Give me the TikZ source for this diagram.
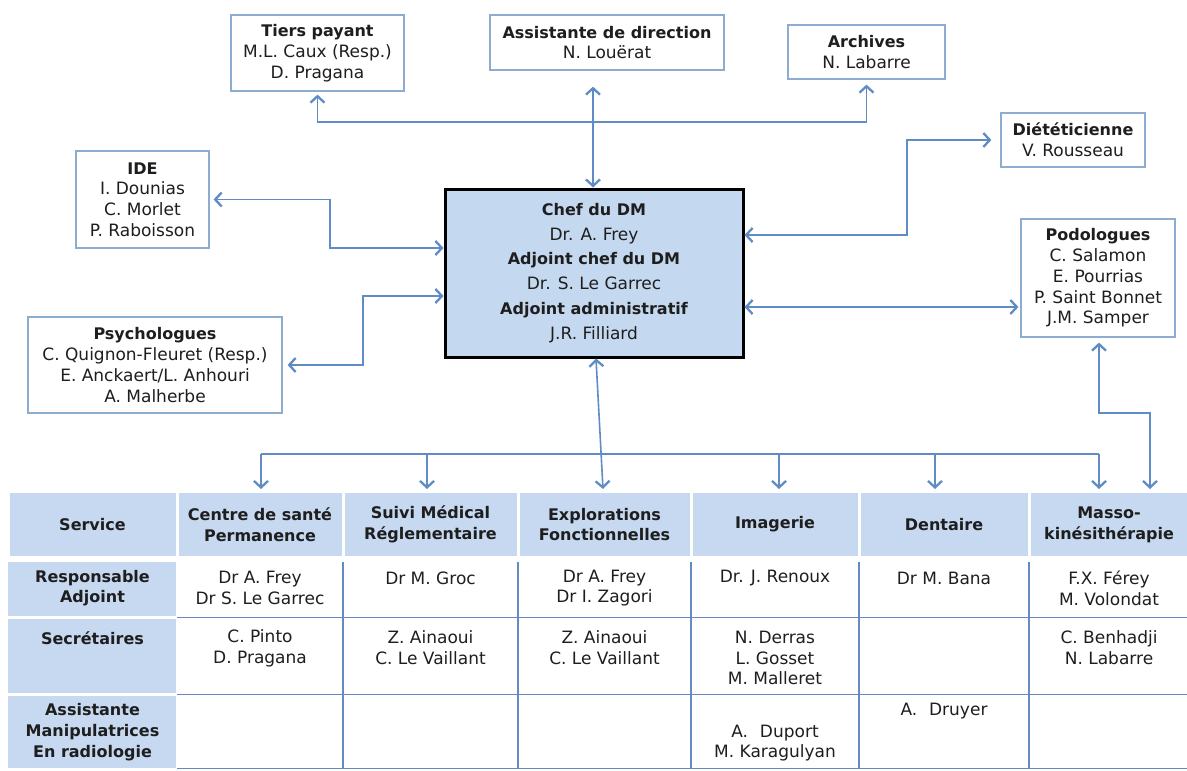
\documentclass[tikz,border=0pt]{standalone}
\usepackage{fontspec}
\setmainfont{DejaVu Sans}
\usetikzlibrary{arrows.meta,calc}
\definecolor{boxc}{RGB}{140,172,210}
\definecolor{arrc}{RGB}{95,140,196}
\definecolor{chefc}{RGB}{196,216,240}
\definecolor{hdrc}{RGB}{198,217,240}
\definecolor{linec}{RGB}{100,138,196}
\definecolor{txtc}{RGB}{30,30,30}
\newcommand\hb[1]{{\fontsize{16}{20.7}\selectfont\bfseries #1}}
\newcommand\hc[1]{{\fontsize{16}{24.8}\selectfont\bfseries #1}}
\begin{document}
\begin{tikzpicture}[x=1pt,y=-1pt,
  every node/.style={text=txtc, font=\fontsize{17}{20.7}\selectfont},
  box/.style={draw=boxc, line width=1.2pt, fill=white, align=center, inner sep=0pt},
  chefbox/.style={draw=black, line width=3pt, fill=chefc, align=center, inner sep=0pt,
    font=\fontsize{17}{24.8}\selectfont},
  conn/.style={draw=arrc, line width=1.6pt},
  >={Straight Barb[length=6.5pt,width=14pt,line width=2.3pt]},
  hdr/.style={fill=hdrc, draw=none, inner sep=0pt, align=center, minimum height=63pt},
  lblfill/.style={fill=hdrc},
  tline/.style={draw=linec, line width=1.3pt},
  cell/.style={align=center, inner sep=0pt}
]
\useasboundingbox (0,0) rectangle (1187,771);

% ---------- boxes ----------
\node[box, minimum width=173pt, minimum height=76pt] (tiers) at (317.5,53)
  {\hb{Tiers payant}\\M.L. Caux (Resp.)\\D. Pragana};
\node[box, minimum width=234pt, minimum height=55pt] (assist) at (607,42.5)
  {\hb{Assistante de direction}\\N. Louërat};
\node[box, minimum width=157pt, minimum height=54pt] (archives) at (866.5,52)
  {\hb{Archives}\\N. Labarre};
\node[box, minimum width=144pt, minimum height=54pt] (diet) at (1073,140)
  {\hb{Diététicienne}\\V. Rousseau};
\node[box, minimum width=133pt, minimum height=97pt] (ide) at (142.5,199.5)
  {\hb{IDE}\\I. Dounias\\C. Morlet\\P. Raboisson};
\node[box, minimum width=254pt, minimum height=96pt] (psych) at (155,365)
  {\hb{Psychologues}\\C. Quignon-Fleuret (Resp.)\\E. Anckaert/L. Anhouri\\A. Malherbe};
\node[box, minimum width=154pt, minimum height=118pt] (podo) at (1098,278)
  {\hb{Podologues}\\C. Salamon\\E. Pourrias\\P. Saint Bonnet\\J.M. Samper};
\node[chefbox, minimum width=298pt, minimum height=168pt] (chef) at (594,273)
  {\hc{Chef du DM}\\Dr. A. Frey\\\hc{Adjoint chef du DM}\\Dr. S. Le Garrec\\\hc{Adjoint administratif}\\J.R. Filliard};

% ---------- table ----------
\node[hdr, minimum width=166pt] (h0) at (92.5,524.5) {\hb{Service}};
\node[hdr, minimum width=163pt] (h1) at (260,524.5) {\hb{Centre de santé}\\\hb{Permanence}};
\node[hdr, minimum width=172pt] (h2) at (430.5,524.5) {\hb{Suivi Médical}\\\hb{Réglementaire}};
\node[hdr, minimum width=170pt] (h3) at (604.5,524.5) {\hb{Explorations}\\\hb{Fonctionnelles}};
\node[hdr, minimum width=165pt] (h4) at (775,524.5) {\hb{Imagerie}};
\node[hdr, minimum width=167pt] (h5) at (944,524.5) {\hb{Dentaire}};
\node[hdr, minimum width=157pt] (h6) at (1109,524.5) {\hb{Masso-}\\\hb{kinésithérapie}};
\fill[lblfill] (8,562) rectangle (176,616);
\fill[lblfill] (8,619) rectangle (176,693);
\fill[lblfill] (8,696) rectangle (176,768);
\draw[tline] (177,617.5) -- (1187,617.5);
\draw[tline] (177,694.5) -- (1187,694.5);
\draw[tline] (177,768.5) -- (1187,768.5);
\foreach \x in {343,518,691,859,1029} \draw[tline] (\x,562) -- (\x,769);
\node[cell] (l1) at (92.5,588) {\hb{Responsable}\\\hb{Adjoint}};
\node[cell] (l2) at (92.5,638) {\hb{Secrétaires}};
\node[cell] (l3) at (92.5,732) {\hb{Assistante}\\\hb{Manipulatrices}\\\hb{En radiologie}};
\node[cell] (r11) at (260,588) {Dr A. Frey\\Dr S. Le Garrec};
\node[cell] (r12) at (430.5,578) {Dr M. Groc};
\node[cell] (r13) at (604.5,588) {Dr A. Frey\\Dr I. Zagori};
\node[cell] (r14) at (775,578) {Dr. J. Renoux};
\node[cell] (r15) at (944,578) {Dr M. Bana};
\node[cell] (r16) at (1109,588) {F.X. Férey\\M. Volondat};
\node[cell] (r21) at (260,648) {C. Pinto\\D. Pragana};
\node[cell] (r22) at (430.5,648) {Z. Ainaoui\\C. Le Vaillant};
\node[cell] (r23) at (604.5,648) {Z. Ainaoui\\C. Le Vaillant};
\node[cell] (r24) at (775,658) {N. Derras\\L. Gosset\\M. Malleret};
\node[cell] (r26) at (1109,648) {C. Benhadji\\N. Labarre};
\node[cell] (r34) at (775,743) {A.\hspace{0.7em}Duport\\M. Karagulyan};
\node[cell] (r35) at (944,711) {A.\hspace{0.7em}Druyer};

% ---------- connectors ----------
\coordinate (hub) at (593,122);
\draw[conn,->,shorten >=3pt] (hub) -| (tiers.south);
\draw[conn,->,shorten >=5pt] (hub) -| (archives.south);
\draw[conn,<->,shorten <=16pt] (assist.south -| hub) -- (chef.north -| hub);

\coordinate (ideK) at (330,248);
\draw[conn,<->,shorten <=4pt] (ide.east) -| (ideK) -- (chef.west |- ideK);

\coordinate (psK) at (363,296);
\draw[conn,<->,shorten <=5pt] (psych.east) -| (psK) -- (chef.west |- psK);

\coordinate (diK) at (907,235);
\draw[conn,<->,shorten >=9pt] (chef.east |- diK) -- (diK) |- (diet.west);

\coordinate (poK) at (0,307);
\draw[conn,<->,shorten >=2pt] (chef.east |- poK) -- (podo.west |- poK);

\coordinate (pb1) at (1099,413);
\coordinate (pb2) at (1150,489);
\draw[conn,<->,shorten <=5pt] (podo.south -| pb1) -- (pb1) -| (pb2);

\coordinate (exS) at ($(chef.south)+(2,0)$);
\coordinate (exE) at (603,489);
\draw[conn,<->] (exS) -- (exE);

\coordinate (dl) at (261,454);
\coordinate (dr) at (1099,454);
\draw[conn] (dl) -- (dr);
\foreach \x/\n in {261/a,427/b,779/c,935/d,1099/e} {
  \coordinate (dt\n) at (\x,454);
  \coordinate (db\n) at (\x,489);
  \draw[conn,->] (dt\n) -- (db\n);
}
\end{tikzpicture}
\end{document}
